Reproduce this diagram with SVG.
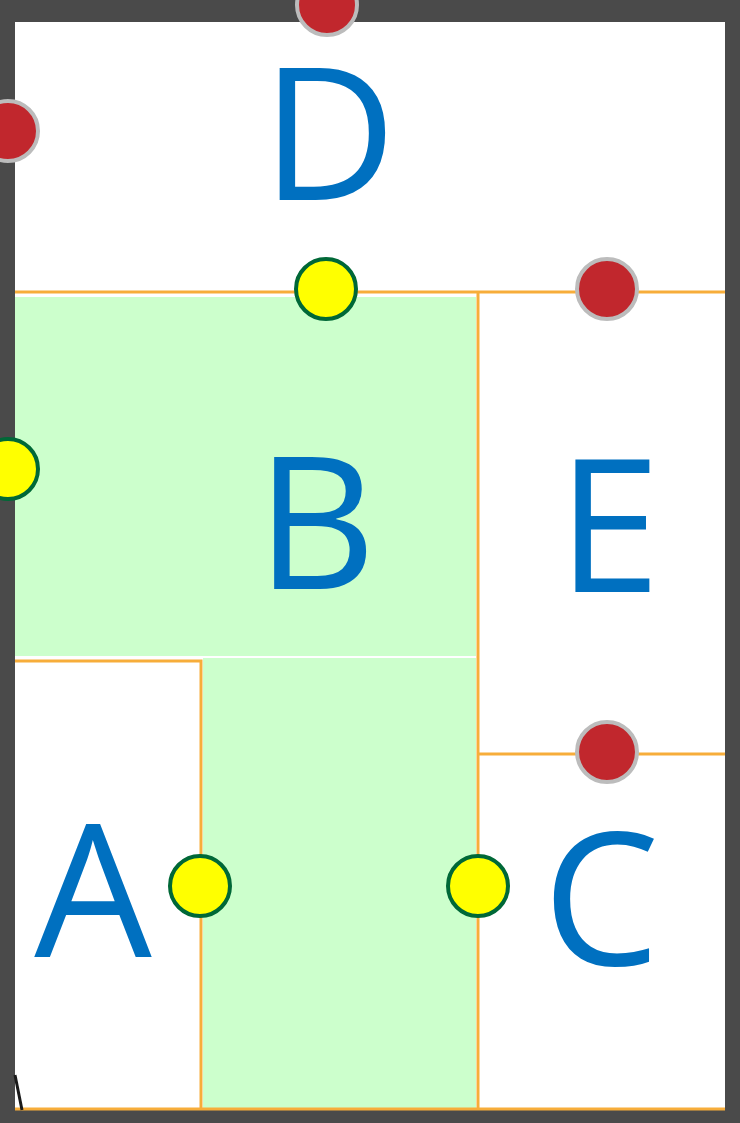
<svg xmlns="http://www.w3.org/2000/svg" width="740" height="1123" viewBox="0 0 740 1123">
<style>
.lbl{font-family:"Open Sans","Liberation Sans",sans-serif;fill:#0070c0;text-anchor:middle;font-size:186px}
.wall{stroke:#f7ad3a;stroke-width:3;fill:none}
.red{fill:#c1272d;stroke:#bcbcbc;stroke-width:4}
.yel{fill:#ffff00;stroke:#006837;stroke-width:4}
</style>
<rect x="0" y="0" width="740" height="1123" fill="#4a4a4a"/>
<rect x="15" y="22" width="710" height="1088" fill="#ffffff"/>
<g id="B"><rect x="15" y="297" width="461" height="359" fill="#ccffcc"/><text class="lbl" x="316" y="589">B</text></g>
<g id="BL"><rect x="203" y="658" width="273" height="451" fill="#ccffcc"/></g>
<g id="D"><text class="lbl" x="329" y="200">D</text></g>
<g id="E"><text class="lbl" x="609" y="592">E</text></g>
<g id="A"><text class="lbl" x="93" y="957">A</text></g>
<g id="C"><text class="lbl" x="601" y="965">C</text></g>
<g id="connectors">
<line class="wall" x1="15" y1="292" x2="725" y2="292"/>
<line class="wall" x1="478" y1="292" x2="478" y2="1110"/>
<line class="wall" x1="478" y1="754" x2="725" y2="754"/>
<polyline class="wall" points="15,661 201,661 201,1110"/>
<line class="wall" x1="15" y1="1109" x2="725" y2="1109"/>
<line x1="15" y1="1075" x2="22" y2="1110" stroke="#1a1a1a" stroke-width="3"/>
</g>
<g id="doors">
<circle class="red" cx="327" cy="5" r="30"/>
<circle class="red" cx="8" cy="131" r="30"/>
<circle class="red" cx="607" cy="289" r="30"/>
<circle class="red" cx="607" cy="752" r="30"/>
<circle class="yel" cx="326" cy="289" r="30"/>
<circle class="yel" cx="8" cy="469" r="30"/>
<circle class="yel" cx="200" cy="886" r="30"/>
<circle class="yel" cx="478" cy="886" r="30"/>
</g>
</svg>
